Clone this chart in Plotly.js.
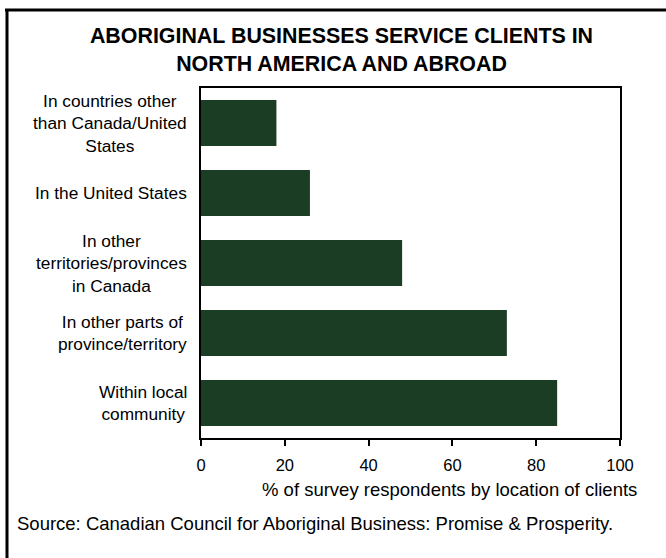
<!DOCTYPE html>
<html>
<head>
<meta charset="utf-8">
<script src="https://cdn.plot.ly/plotly-3.0.1.min.js"></script>
<style>html,body{margin:0;padding:0;background:#fff;}#chart{width:666px;height:558px;}</style>
</head>
<body>
<div id="chart"></div>
<script>
const categories = [
  "Within local<br>community",
  "In other parts of<br>province/territory",
  "In other<br>territories/provinces<br>in Canada",
  "In the United States",
  "In countries other<br>than Canada/United<br>States"
];
const values = [85, 73, 48, 26, 18];
const tickValues = [0, 20, 40, 60, 80, 100];
const titleText = "ABORIGINAL BUSINESSES SERVICE CLIENTS IN<br>NORTH AMERICA AND ABROAD";
const axisTitle = "% of survey respondents by location of clients";
const sourceText = "Source: Canadian Council for Aboriginal Business: Promise & Prosperity.";

const FONT = "Liberation Sans, Arial, sans-serif";
const W = 666, H = 558, L = 201, R = 620, T = 88, B = 438;
const px = p => (p - L) / (R - L);
const py = p => (B - p) / (B - T);

const annotations = categories.map((c, i) => ({
  text: c, xref: "paper", yref: "y", x: 0, y: i, xanchor: "right", yanchor: "middle",
  xshift: -12, align: "center", showarrow: false, font: {family: FONT, size: 17.3, color: "#000"}
}));
annotations.push({
  text: axisTitle, xref: "paper", yref: "paper", x: px(449), y: py(489),
  xanchor: "center", yanchor: "middle", showarrow: false, font: {family: FONT, size: 18.5, color: "#000"}
});
annotations.push({
  text: sourceText, xref: "paper", yref: "paper", x: px(15), y: py(523),
  xanchor: "left", yanchor: "middle", showarrow: false, font: {family: FONT, size: 18.5, color: "#000"}
});

const data = [{
  type: "bar", orientation: "h", x: values, y: categories.map((c, i) => i),
  marker: {color: "#1b3d24"}, hoverinfo: "none"
}];

const layout = {
  width: W, height: H,
  margin: {l: L, r: W - R, t: T, b: H - B, pad: 0},
  paper_bgcolor: "#fff", plot_bgcolor: "#fff",
  showlegend: false,
  bargap: 0.34,
  title: {
    text: titleText, xref: "container", yref: "container",
    x: 341.5 / W, y: (H - 43) / H, xanchor: "center", yanchor: "middle",
    font: {family: FONT, size: 21.4, color: "#000", weight: "bold"}
  },
  xaxis: {
    range: [0, 100], tickvals: tickValues, ticktext: tickValues.map(String),
    showgrid: false, zeroline: false, showline: true, linecolor: "#000", linewidth: 2, mirror: true,
    ticks: "outside", ticklen: 6, tickwidth: 2, tickcolor: "#000", ticklabelstandoff: 5,
    tickfont: {family: FONT, size: 16.5, color: "#000"}, fixedrange: true
  },
  yaxis: {
    range: [-0.5, 4.5], showticklabels: false, ticks: "", showgrid: false, zeroline: false,
    showline: true, linecolor: "#000", linewidth: 2, mirror: true, fixedrange: true
  },
  annotations: annotations,
  shapes: [
    {type: "line", xref: "paper", yref: "paper", x0: px(5), x1: px(680), y0: py(10), y1: py(10), line: {color: "#000", width: 3}},
    {type: "line", xref: "paper", yref: "paper", x0: px(7), x1: px(7), y0: py(10), y1: py(570), line: {color: "#000", width: 3}}
  ]
};

Plotly.newPlot("chart", data, layout, {displayModeBar: false, staticPlot: true});
</script>
</body>
</html>
